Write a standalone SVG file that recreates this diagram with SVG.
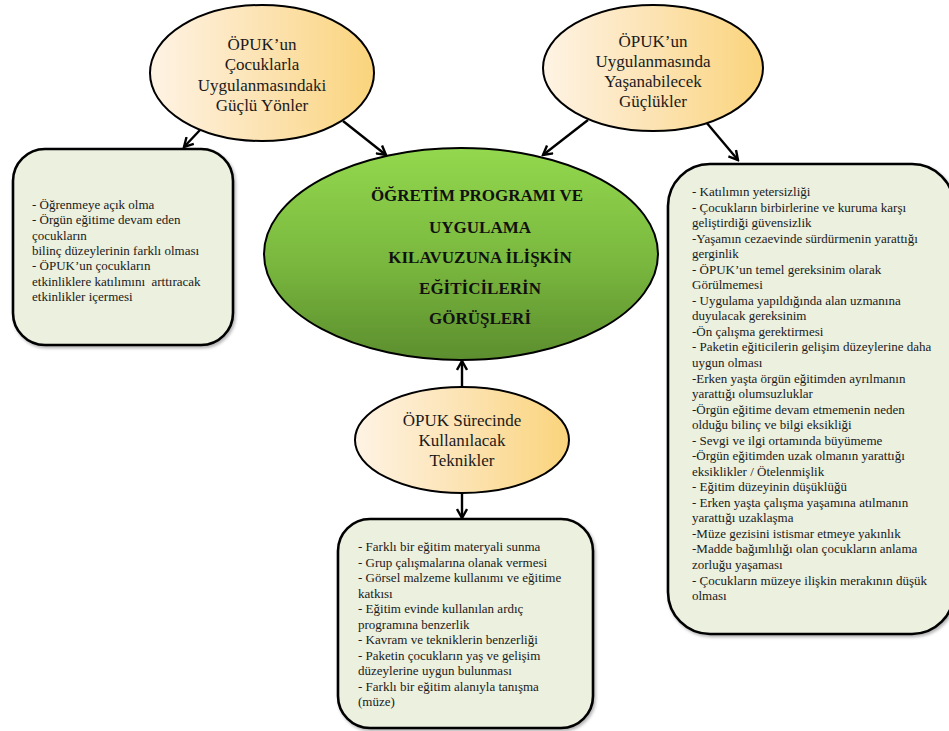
<svg xmlns="http://www.w3.org/2000/svg" width="949" height="731" viewBox="0 0 949 731">
<defs>
<linearGradient id="gold" x1="0" y1="0" x2="1" y2="0">
<stop offset="0" stop-color="#fef3e4"/>
<stop offset="0.5" stop-color="#fce3b3"/>
<stop offset="1" stop-color="#fad47c"/>
</linearGradient>
<linearGradient id="green" x1="0" y1="0" x2="0" y2="1">
<stop offset="0" stop-color="#93d84e"/>
<stop offset="0.55" stop-color="#79b73e"/>
<stop offset="1" stop-color="#5c8e2e"/>
</linearGradient>
<filter id="sh" x="-10%" y="-10%" width="120%" height="120%">
<feDropShadow dx="1.5" dy="2" stdDeviation="1.5" flood-color="#000" flood-opacity="0.3"/>
</filter>
<marker id="ah" viewBox="0 0 12 12" markerWidth="12" markerHeight="12" refX="10.5" refY="6" orient="auto" markerUnits="userSpaceOnUse">
<path d="M1.5,1 L10.5,6 L1.5,11" fill="none" stroke="#000" stroke-width="2.4" stroke-linejoin="miter"/>
</marker>
</defs>
<style>
.oval{fill:url(#gold);stroke:#000;stroke-width:2}
.box{fill:#ebf0df;stroke:#000;stroke-width:2.6;filter:url(#sh)}
.ot{font-family:"Liberation Serif","Times New Roman",serif;font-size:17px;fill:#1a1a1a;text-anchor:middle}
.ct{font-family:"Liberation Serif","Times New Roman",serif;font-size:17px;font-weight:bold;fill:#111;text-anchor:middle}
.bt{font-family:"Liberation Serif","Times New Roman",serif;font-size:13px;fill:#1a1a1a;white-space:pre}
.cn{stroke:#000;stroke-width:2.4;fill:none;marker-end:url(#ah)}
</style>

<g id="connectors">
<line class="cn" x1="200" y1="130" x2="184" y2="147"/>
<line class="cn" x1="343" y1="121" x2="386" y2="155"/>
<line class="cn" x1="588" y1="120" x2="543" y2="155"/>
<line class="cn" x1="706" y1="122" x2="738" y2="160"/>
<line class="cn" x1="462" y1="387" x2="462" y2="361"/>
<line class="cn" x1="462" y1="493" x2="462" y2="518"/>
</g>

<g id="strengths-oval">
<ellipse class="oval" cx="262" cy="73" rx="112" ry="68"/>
<text class="ot" x="262" y="50">ÖPUK’un</text>
<text class="ot" x="262" y="70">Çocuklarla</text>
<text class="ot" x="262" y="91">Uygulanmasındaki</text>
<text class="ot" x="262" y="111">Güçlü Yönler</text>
</g>

<g id="difficulties-oval">
<ellipse class="oval" cx="653" cy="68" rx="110" ry="63"/>
<text class="ot" x="653" y="47">ÖPUK’un</text>
<text class="ot" x="653" y="67">Uygulanmasında</text>
<text class="ot" x="653" y="87">Yaşanabilecek</text>
<text class="ot" x="653" y="107">Güçlükler</text>
</g>

<g id="center-oval">
<ellipse cx="461" cy="254" rx="197" ry="106" fill="url(#green)" stroke="#000" stroke-width="2"/>
<text class="ct" x="477" y="201">ÖĞRETİM PROGRAMI VE</text>
<text class="ct" x="480" y="233">UYGULAMA</text>
<text class="ct" x="480" y="263">KILAVUZUNA İLİŞKİN</text>
<text class="ct" x="480" y="294">EĞİTİCİLERİN</text>
<text class="ct" x="480" y="324">GÖRÜŞLERİ</text>
</g>

<g id="techniques-oval">
<ellipse class="oval" cx="462" cy="440" rx="107" ry="53"/>
<text class="ot" x="462" y="426">ÖPUK Sürecinde</text>
<text class="ot" x="462" y="446">Kullanılacak</text>
<text class="ot" x="462" y="466">Teknikler</text>
</g>

<g id="strengths-box">
<rect class="box" x="13" y="149" width="220" height="196" rx="32" ry="32"/>
<text class="bt" x="32" y="209">- Öğrenmeye açık olma</text>
<text class="bt" x="32" y="224.3">- Örgün eğitime devam eden</text>
<text class="bt" x="32" y="239.6">çocukların</text>
<text class="bt" x="32" y="254.9">bilinç düzeylerinin farklı olması</text>
<text class="bt" x="32" y="270.2">- ÖPUK’un çocukların</text>
<text class="bt" x="32" y="285.5">etkinliklere katılımını  arttıracak</text>
<text class="bt" x="32" y="300.8">etkinlikler içermesi</text>
</g>

<g id="difficulties-box">
<rect class="box" x="668" y="164" width="286" height="470" rx="42" ry="42"/>
<text class="bt" x="692" y="196">- Katılımın yetersizliği</text>
<text class="bt" x="692" y="211.5">- Çocukların birbirlerine ve kuruma karşı</text>
<text class="bt" x="692" y="227.1">geliştirdiği güvensizlik</text>
<text class="bt" x="692" y="242.6">-Yaşamın cezaevinde sürdürmenin yarattığı</text>
<text class="bt" x="692" y="258.2">gerginlik</text>
<text class="bt" x="692" y="273.7">- ÖPUK’un temel gereksinim olarak</text>
<text class="bt" x="692" y="289.2">Görülmemesi</text>
<text class="bt" x="692" y="304.8">- Uygulama yapıldığında alan uzmanına</text>
<text class="bt" x="692" y="320.3">duyulacak gereksinim</text>
<text class="bt" x="692" y="335.9">-Ön çalışma gerektirmesi</text>
<text class="bt" x="692" y="351.4">- Paketin eğiticilerin gelişim düzeylerine daha</text>
<text class="bt" x="692" y="366.9">uygun olması</text>
<text class="bt" x="692" y="382.5">-Erken yaşta örgün eğitimden ayrılmanın</text>
<text class="bt" x="692" y="398">yarattığı olumsuzluklar</text>
<text class="bt" x="692" y="413.6">-Örgün eğitime devam etmemenin neden</text>
<text class="bt" x="692" y="429.1">olduğu bilinç ve bilgi eksikliği</text>
<text class="bt" x="692" y="444.6">- Sevgi ve ilgi ortamında büyümeme</text>
<text class="bt" x="692" y="460.2">-Örgün eğitimden uzak olmanın yarattığı</text>
<text class="bt" x="692" y="475.7">eksiklikler / Ötelenmişlik</text>
<text class="bt" x="692" y="491.3">- Eğitim düzeyinin düşüklüğü</text>
<text class="bt" x="692" y="506.8">- Erken yaşta çalışma yaşamına atılmanın</text>
<text class="bt" x="692" y="522.3">yarattığı uzaklaşma</text>
<text class="bt" x="692" y="537.9">-Müze gezisini istismar etmeye yakınlık</text>
<text class="bt" x="692" y="553.4">-Madde bağımlılığı olan çocukların anlama</text>
<text class="bt" x="692" y="569">zorluğu yaşaması</text>
<text class="bt" x="692" y="584.5">- Çocukların müzeye ilişkin merakının düşük</text>
<text class="bt" x="692" y="600">olması</text>
</g>

<g id="techniques-box">
<rect class="box" x="338" y="519" width="255" height="209" rx="32" ry="32"/>
<text class="bt" x="358" y="551">- Farklı bir eğitim materyali sunma</text>
<text class="bt" x="358" y="566.5">- Grup çalışmalarına olanak vermesi</text>
<text class="bt" x="358" y="582">- Görsel malzeme kullanımı ve eğitime</text>
<text class="bt" x="358" y="597.5">katkısı</text>
<text class="bt" x="358" y="613">- Eğitim evinde kullanılan ardıç</text>
<text class="bt" x="358" y="628.5">programına benzerlik</text>
<text class="bt" x="358" y="644">- Kavram ve tekniklerin benzerliği</text>
<text class="bt" x="358" y="659.5">- Paketin çocukların yaş ve gelişim</text>
<text class="bt" x="358" y="675">düzeylerine uygun bulunması</text>
<text class="bt" x="358" y="690.5">- Farklı bir eğitim alanıyla tanışma</text>
<text class="bt" x="358" y="706">(müze)</text>
</g>
</svg>
